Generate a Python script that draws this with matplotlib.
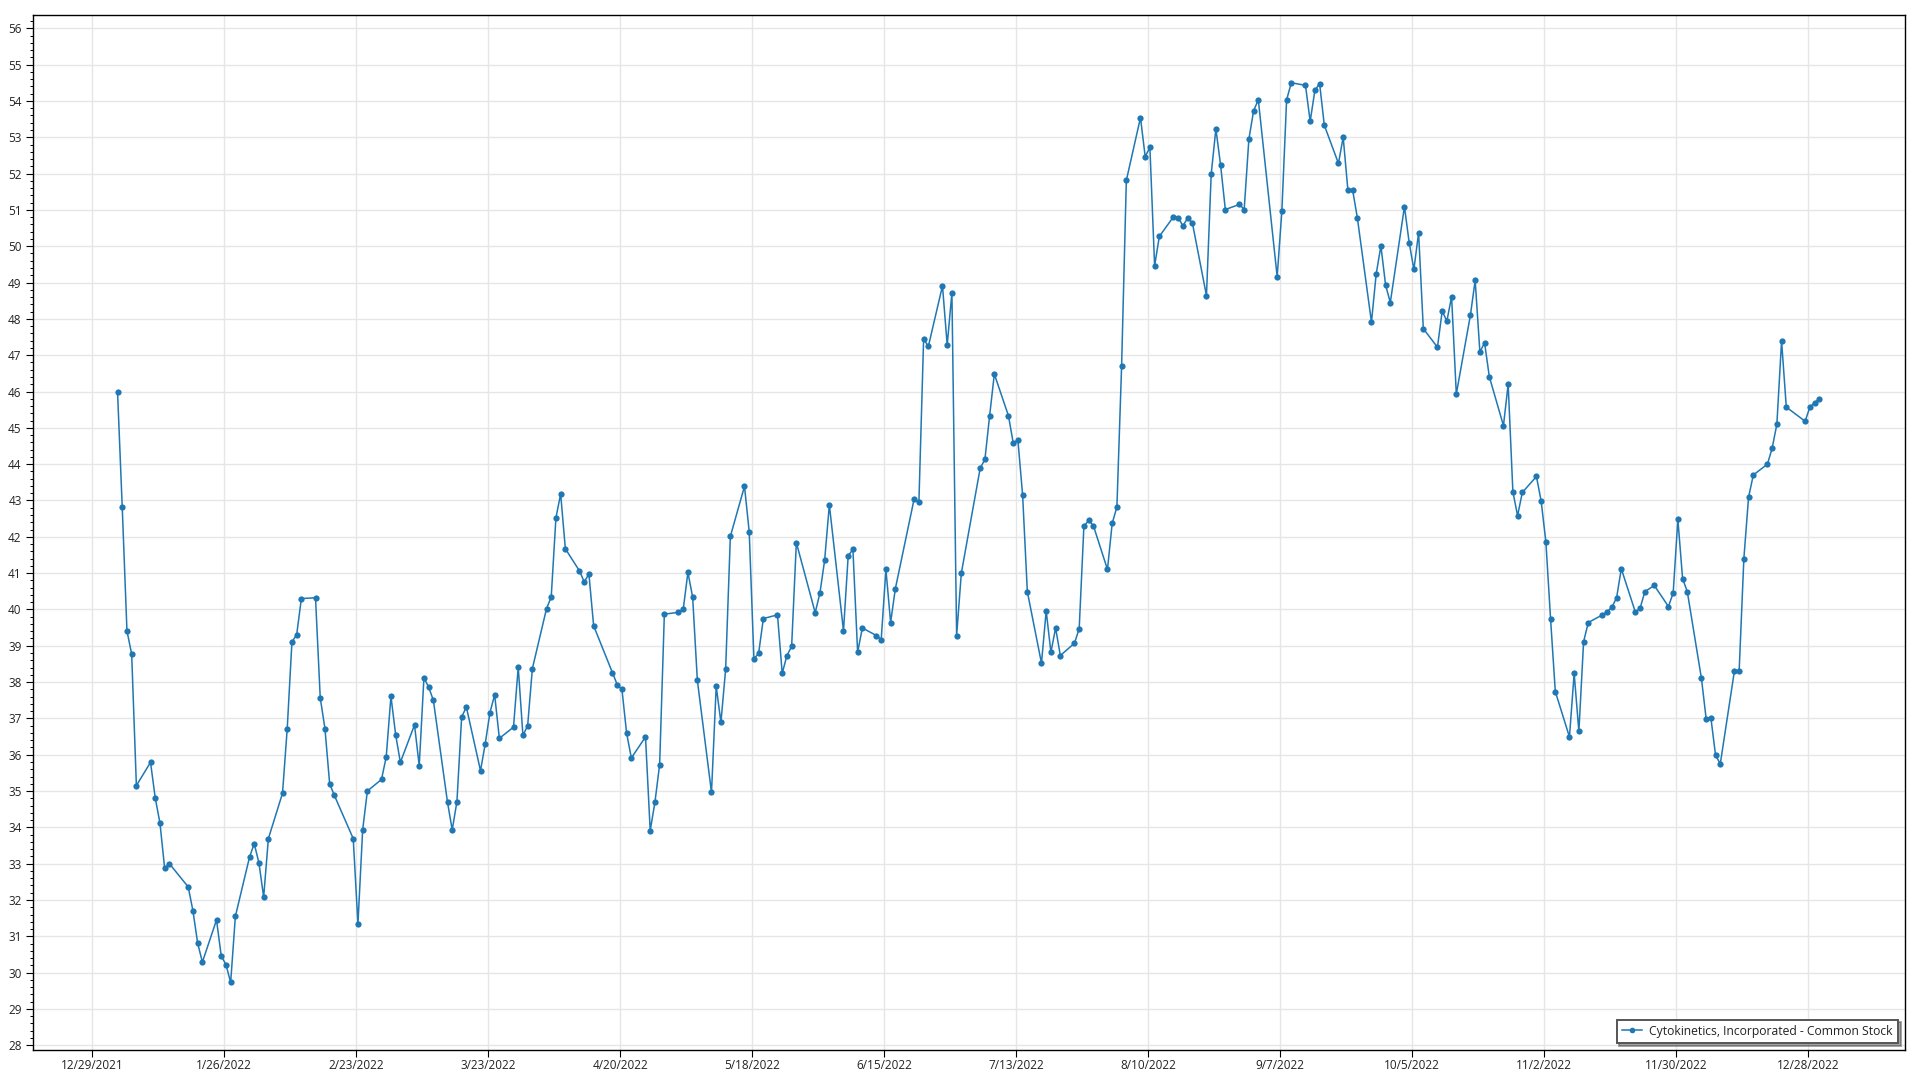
import matplotlib
matplotlib.use("Agg")
import matplotlib.pyplot as plt
import matplotlib.dates as mdates
from matplotlib.ticker import MultipleLocator, FixedLocator
import pandas as pd
import numpy as np

# ---------------- data ----------------
series_name = "Cytokinetics, Incorporated - Common Stock"
holidays = ["2022-01-17", "2022-02-21", "2022-04-15", "2022-05-30", "2022-06-20",
            "2022-07-04", "2022-09-05", "2022-11-24", "2022-12-26"]

jan = [46.0, 42.81, 39.41, 38.77, 35.15, 35.79, 34.81, 34.12, 32.87, 33.0,
       32.36, 31.70, 30.81, 30.29, 31.45, 30.46, 30.22, 29.73, 31.55, 33.18]
feb = [33.55, 33.02, 32.08, 33.69, 34.94, 36.72, 39.11, 39.30, 40.30, 40.32,
       37.57, 36.72, 35.20, 34.88, 33.69, 31.34, 33.93, 35.0, 35.32]
mar = [35.94, 37.61, 36.55, 35.79, 36.82, 35.70, 38.12, 37.86, 37.50, 34.69,
       33.93, 34.71, 37.04, 37.31, 35.56, 36.30, 37.16, 37.65, 36.45, 36.76,
       38.41, 36.53, 36.80]
apr = [38.37, 40.02, 40.34, 42.52, 43.18, 41.67, 41.06, 40.76, 40.97, 39.55,
       38.26, 37.93, 37.80, 36.59, 35.91, 36.49, 33.91, 34.69, 35.73, 39.87]
may = [39.92, 40.0, 41.02, 40.34, 38.05, 34.96, 37.88, 36.89, 38.35, 42.01,
       43.39, 42.14, 38.64, 38.79, 39.75, 39.85, 38.24, 38.73, 38.98, 41.84,
       39.91]
jun = [40.45, 41.35, 42.88, 39.41, 41.48, 41.65, 38.82, 39.49, 39.28, 39.17,
       41.10, 39.64, 40.57, 43.05, 42.96, 47.45, 47.24, 48.91, 47.28, 48.72,
       39.28]
jul = [41.0, 43.89, 44.13, 45.33, 46.48, 45.33, 44.59, 44.66, 43.15, 40.49,
       38.52, 39.96, 38.82, 39.49, 38.73, 39.07, 39.47, 42.29, 42.45, 42.31]
aug = [41.10, 42.37, 42.82, 46.71, 51.81, 53.54, 52.47, 52.72, 49.46, 50.27,
       50.81, 50.79, 50.56, 50.77, 50.65, 48.64, 51.98, 53.23, 52.23, 51.01,
       51.15, 51.01, 52.95]
sep = [53.73, 54.03, 49.16, 50.98, 54.03, 54.50, 54.43, 53.44, 54.29, 54.48,
       53.33, 52.28, 53.0, 51.55, 51.55, 50.79, 47.91, 49.23, 50.01, 48.93,
       48.45]
oct_ = [51.09, 50.10, 49.36, 50.37, 47.73, 47.22, 48.21, 47.94, 48.61, 45.93,
        48.11, 49.06, 47.09, 47.34, 46.41, 45.06, 46.20, 43.24, 42.58, 43.22,
        43.66]
nov = [42.98, 41.86, 39.73, 37.74, 36.49, 38.24, 36.64, 39.11, 39.64, 39.85,
       39.94, 40.06, 40.32, 41.12, 39.92, 40.04, 40.49, 40.66, 40.08, 40.45,
       42.48]
dec = [40.85, 40.49, 38.10, 36.99, 37.02, 35.98, 35.75, 38.31, 38.31, 41.40,
       43.09, 43.70, 44.0, 44.44, 45.10, 47.39, 45.57, 45.18, 45.57, 45.69,
       45.80]

tick_labels = ["12/29/2021", "1/26/2022", "2/23/2022", "3/23/2022", "4/20/2022",
               "5/18/2022", "6/15/2022", "7/13/2022", "8/10/2022", "9/7/2022",
               "10/5/2022", "11/2/2022", "11/30/2022", "12/28/2022"]

# ---------------- build ----------------
values = jan + feb + mar + apr + may + jun + jul + aug + sep + oct_ + nov + dec
bday = pd.offsets.CustomBusinessDay(holidays=holidays)
dates = pd.date_range("2022-01-03", "2022-12-30", freq=bday)
n = min(len(dates), len(values))
dates = dates[:n] + pd.Timedelta(hours=8.5)
values = values[:n]

plt.rcParams['font.family'] = ['Open Sans', 'DejaVu Sans']

fig = plt.figure(figsize=(19.2, 10.8), dpi=100)
ax = fig.add_axes([32.7 / 1920, 1 - 1050 / 1080, (1905.3 - 32.7) / 1920, (1050 - 15) / 1080])

color = '#1f77b4'
ax.plot(dates, values, color=color, linewidth=1.1, marker='o', markersize=4.5,
        markeredgewidth=0, label=series_name, zorder=3)

tick_dates = [pd.to_datetime(t, format="%m/%d/%Y") for t in tick_labels]
ax.xaxis.set_major_locator(FixedLocator(mdates.date2num(tick_dates)))
ax.set_xticklabels(tick_labels)

x0 = pd.Timestamp("2021-12-29") - pd.Timedelta(days=12.64)
x1 = pd.Timestamp("2021-12-29") + pd.Timedelta(days=384.6)
ax.set_xlim(x0, x1)
ax.set_ylim(27.87, 56.366)
ax.yaxis.set_major_locator(MultipleLocator(1))
ax.yaxis.set_minor_locator(MultipleLocator(0.2))

ax.grid(True, which='major', color='#e6e6e6', linewidth=1.0, zorder=0)
ax.set_axisbelow(True)

for s in ax.spines.values():
    s.set_color('black')
    s.set_linewidth(1.0)

ax.tick_params(axis='both', which='major', direction='out', length=5, width=0.8,
               color='black', labelsize=8.5, labelcolor='#222222', pad=3)
ax.tick_params(axis='x', which='major', pad=1.5)
ax.tick_params(axis='y', which='minor', direction='out', length=2.5, width=0.7, color='black')
ax.tick_params(axis='x', which='minor', length=0)

leg = ax.legend(loc='lower right', frameon=True, fancybox=False, shadow=True,
                fontsize=8.7, borderaxespad=0.6, handlelength=1.7,
                borderpad=0.42, handletextpad=0.6, markerscale=0.9)
leg.get_frame().set_edgecolor('#555555')
leg.get_frame().set_linewidth(1.4)
for t in leg.get_texts():
    t.set_color('#222222')

fig.savefig("out.png", dpi=100)
